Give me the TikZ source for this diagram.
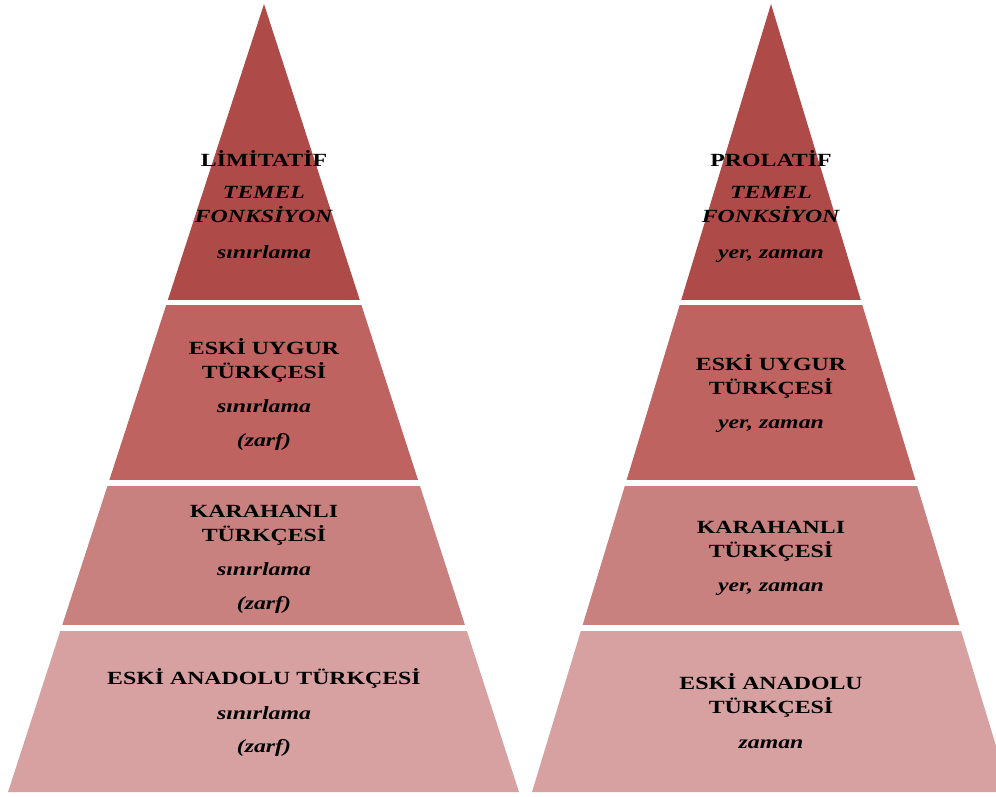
\documentclass[tikz,border=0pt]{standalone}
\usepackage{fontspec}
\setmainfont{Liberation Serif}[FakeStretch=1.28]

\definecolor{katA}{HTML}{AE4B48}
\definecolor{katB}{HTML}{BE6360}
\definecolor{katC}{HTML}{C98180}
\definecolor{katD}{HTML}{D8A1A1}

\begin{document}
\begin{tikzpicture}[x=1pt, y=-1pt,
    etiket/.style={align=center, anchor=base, font=\fontsize{18.6}{24}\selectfont\bfseries}]
  \useasboundingbox (0,0) rectangle (996,796);

  % sol piramit
  \begin{scope}
    \clip (8,792) -- (264,4) -- (519,792) -- cycle;
    \fill[katA] (0,0) rectangle (530,300);
    \fill[katB] (0,305) rectangle (530,480);
    \fill[katC] (0,486) rectangle (530,625);
    \fill[katD] (0,631) rectangle (530,796);
  \end{scope}

  % sag piramit
  \begin{scope}
    \clip (532,792) -- (771,4) -- (1010,792) -- cycle;
    \fill[katA] (520,0) rectangle (1010,300);
    \fill[katB] (520,305) rectangle (1010,480);
    \fill[katC] (520,486) rectangle (1010,625);
    \fill[katD] (520,631) rectangle (1010,796);
  \end{scope}

  % sol etiketler (taban cizgisi = son satir)
  \node[etiket] (limitatif) at (264,258) {LİMİTATİF\\[8pt]\textit{TEMEL}\\\textit{FONKSİYON}\\[12pt]\textit{sınırlama}};
  \node[etiket] (solUygur) at (264,446) {ESKİ UYGUR\\TÜRKÇESİ\\[10pt]\textit{sınırlama}\\[10pt]\textit{(zarf)}};
  \node[etiket] (solKarahanli) at (264,609) {KARAHANLI\\TÜRKÇESİ\\[10pt]\textit{sınırlama}\\[10pt]\textit{(zarf)}};
  \node[etiket] (solAnadolu) at (264,752) {ESKİ ANADOLU TÜRKÇESİ\\[11pt]\textit{sınırlama}\\[9pt]\textit{(zarf)}};

  % sag etiketler
  \node[etiket] (prolatif) at (771,258) {PROLATİF\\[8pt]\textit{TEMEL}\\\textit{FONKSİYON}\\[12pt]\textit{yer, zaman}};
  \node[etiket] (sagUygur) at (771,428) {ESKİ UYGUR\\TÜRKÇESİ\\[10pt]\textit{yer, zaman}};
  \node[etiket] (sagKarahanli) at (771,591) {KARAHANLI\\TÜRKÇESİ\\[10pt]\textit{yer, zaman}};
  \node[etiket] (sagAnadolu) at (771,748) {ESKİ ANADOLU\\TÜRKÇESİ\\[11pt]\textit{zaman}};
\end{tikzpicture}
\end{document}
